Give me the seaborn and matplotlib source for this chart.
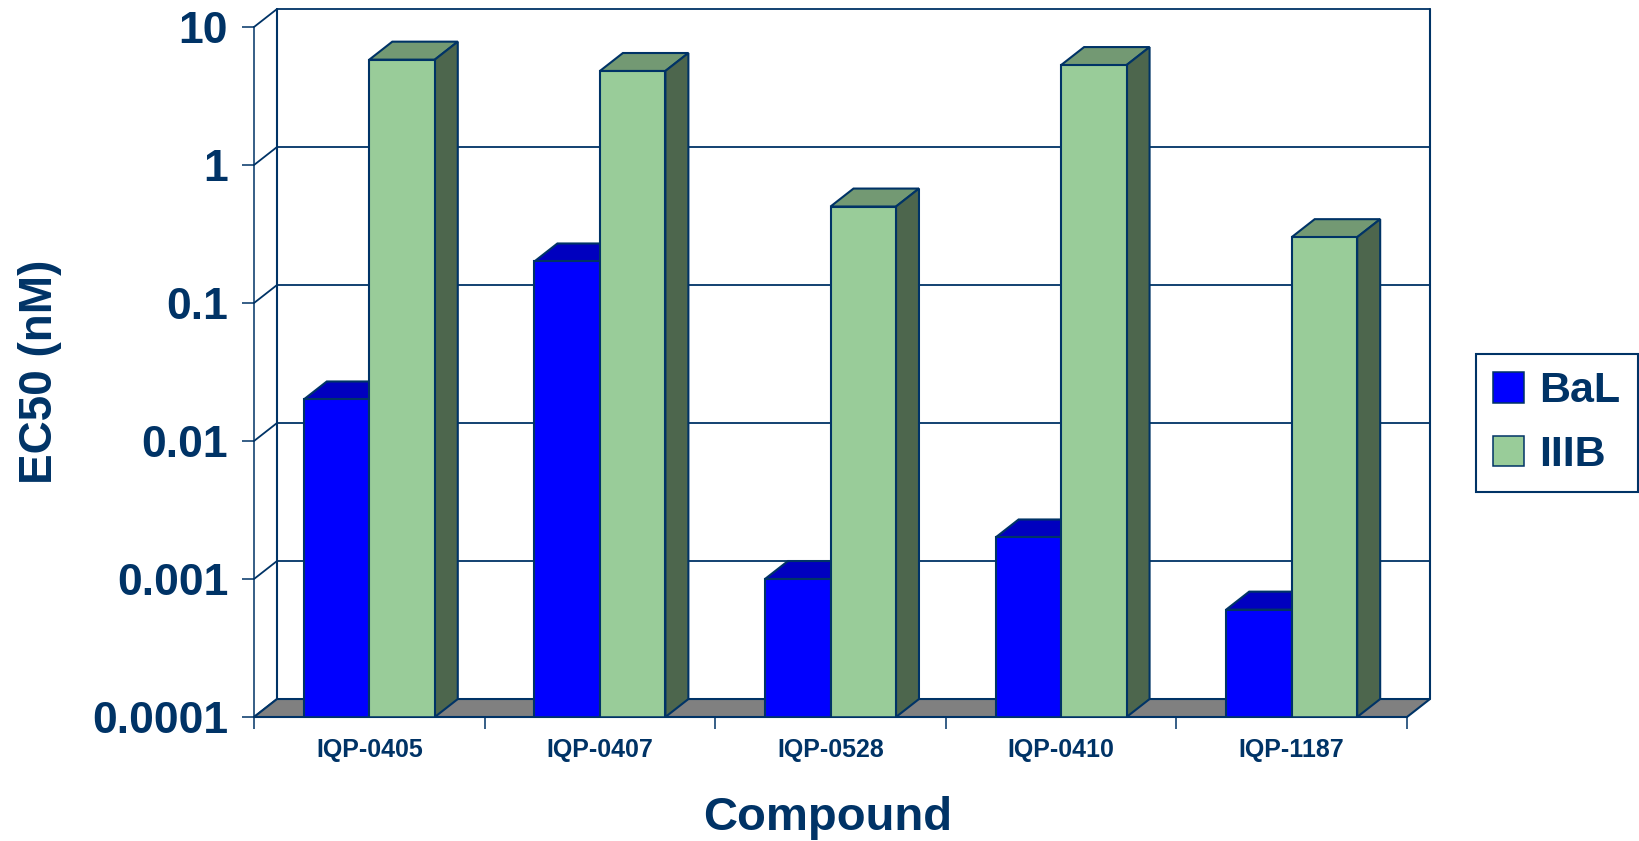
import numpy as np
import pandas as pd
import matplotlib
matplotlib.use("Agg")
import matplotlib.pyplot as plt
from matplotlib.patches import Polygon, Patch
from matplotlib.ticker import NullLocator
import seaborn as sns

# EC50 values (nM) per compound and virus strain
compounds = ["IQP-0405", "IQP-0407", "IQP-0528", "IQP-0410", "IQP-1187"]
strains = ["BaL", "IIIB"]
bal_ec50 = [0.02, 0.2, 0.001, 0.002, 0.0006]
iiib_ec50 = [5.8, 4.8, 0.5, 5.3, 0.3]
y_ticks = [0.0001, 0.001, 0.01, 0.1, 1, 10]
y_tick_labels = ["0.0001", "0.001", "0.01", "0.1", "1", "10"]

df = pd.DataFrame({
    "Compound": compounds * 2,
    "Strain": ["BaL"] * len(compounds) + ["IIIB"] * len(compounds),
    "EC50": bal_ec50 + iiib_ec50,
})

NAVY = "#003366"
BLUE = "#0000FF"
GREEN = "#99CC99"
# shading of the top and side faces for each strain
TOP_COLORS = {"BaL": "#0000BF", "IIIB": "#739973"}
SIDE_COLORS = {"BaL": "#0000BF", "IIIB": "#4D664D"}
FLOOR_GRAY = "#808080"

sns.set_style("white")
plt.rcParams["font.family"] = ["Liberation Sans", "DejaVu Sans"]
plt.rcParams["font.weight"] = "bold"

fig = plt.figure(figsize=(16.39, 8.41), dpi=100)
ax = fig.add_axes([254 / 1639, 124 / 841, 1153 / 1639, 690 / 841])

sns.barplot(data=df, x="Compound", y="EC50", hue="Strain", hue_order=strains,
            palette=[BLUE, GREEN], saturation=1, width=0.568, edgecolor=NAVY,
            linewidth=1.5, errorbar=None, legend=False, ax=ax, zorder=3)

ax.set_yscale("log")
YMIN, YMAX = 1e-4, 10
ax.set_ylim(YMIN, YMAX)
ax.set_xlim(-0.5, len(compounds) - 0.5)

# pseudo-3D depth: shift in category units and log-decade factor
DX = 0.0997
DF = 10 ** 0.1303
XL, XR = -0.5, len(compounds) - 0.5

# bar tops and right-hand side faces (seaborn adds bars hue level by hue level)
bars = list(ax.patches)
for i, bar in enumerate(bars):
    strain = strains[i // len(compounds)]
    x0, w, h = bar.get_x(), bar.get_width(), bar.get_height()
    ax.add_patch(Polygon([(x0, h), (x0 + w, h), (x0 + w + DX, h * DF), (x0 + DX, h * DF)],
                         closed=True, facecolor=TOP_COLORS[strain], edgecolor=NAVY,
                         linewidth=1.5, zorder=2, clip_on=False))
    ax.add_patch(Polygon([(x0 + w, YMIN), (x0 + w, h), (x0 + w + DX, h * DF),
                          (x0 + w + DX, YMIN * DF)],
                         closed=True, facecolor=SIDE_COLORS[strain], edgecolor=NAVY,
                         linewidth=1.5, zorder=2, clip_on=False))

# floor
ax.add_patch(Polygon([(XL, YMIN), (XR, YMIN), (XR + DX, YMIN * DF), (XL + DX, YMIN * DF)],
                     closed=True, facecolor=FLOOR_GRAY, edgecolor=NAVY, linewidth=1.5,
                     zorder=1, clip_on=False))

# back wall gridlines, frame and left wall depth lines
for v in y_ticks:
    ax.plot([XL + DX, XR + DX], [v * DF, v * DF], color=NAVY, linewidth=1.3,
            zorder=0.5, clip_on=False)
    ax.plot([XL, XL + DX], [v, v * DF], color=NAVY, linewidth=1.3,
            zorder=0.5, clip_on=False)
ax.plot([XL + DX, XL + DX], [YMIN * DF, YMAX * DF], color=NAVY, linewidth=1.5,
        zorder=0.5, clip_on=False)
ax.plot([XR + DX, XR + DX], [YMIN * DF, YMAX * DF], color=NAVY, linewidth=1.5,
        zorder=0.5, clip_on=False)

for side in ["top", "right"]:
    ax.spines[side].set_visible(False)
for side in ["left", "bottom"]:
    ax.spines[side].set_color(NAVY)
    ax.spines[side].set_linewidth(1.1)
    ax.spines[side].set_zorder(4)

ax.set_yticks(y_ticks)
ax.set_yticklabels(y_tick_labels)
ax.yaxis.set_minor_locator(NullLocator())
ax.tick_params(axis="y", which="major", left=True, length=8.6, width=1.1, color=NAVY,
               pad=10, labelsize=32, labelcolor=NAVY, direction="out")

ax.set_xticks(range(len(compounds)))
ax.set_xticklabels(compounds)
ax.set_xticks(np.arange(-0.5, len(compounds), 1.0), minor=True)
ax.tick_params(axis="x", which="major", bottom=True, length=0, pad=15,
               labelsize=18, labelcolor=NAVY)
ax.tick_params(axis="x", which="minor", bottom=True, length=8.6, width=1.1,
               color=NAVY, direction="out")
for lbl in ax.get_xticklabels() + ax.get_yticklabels():
    lbl.set_fontweight("bold")

ax.set_xlabel("")
ax.set_ylabel("")
fig.text(40 / 1639, 1 - 372 / 841, "EC50 (nM)", rotation=90, ha="center", va="center",
         fontsize=33, fontweight="bold", color=NAVY)
fig.text(828 / 1639, 1 - 830 / 841, "Compound", ha="center", va="baseline",
         fontsize=34, fontweight="bold", color=NAVY)

handles = [Patch(facecolor=BLUE, edgecolor=NAVY, linewidth=1.1, label="BaL"),
           Patch(facecolor=GREEN, edgecolor=NAVY, linewidth=1.1, label="IIIB")]
leg = ax.legend(handles=handles, loc="upper left",
                bbox_to_anchor=(1476 / 1639, 1 - 354 / 841), bbox_transform=fig.transFigure,
                frameon=True, fancybox=False, framealpha=1, edgecolor=NAVY,
                prop={"size": 31, "weight": "bold"}, labelcolor=NAVY,
                handlelength=0.72, handleheight=0.72, handletextpad=0.35,
                labelspacing=0.55, borderpad=0.4, borderaxespad=0)
leg.get_frame().set_linewidth(1.5)

fig.savefig("out.png", dpi=100, facecolor="white")
